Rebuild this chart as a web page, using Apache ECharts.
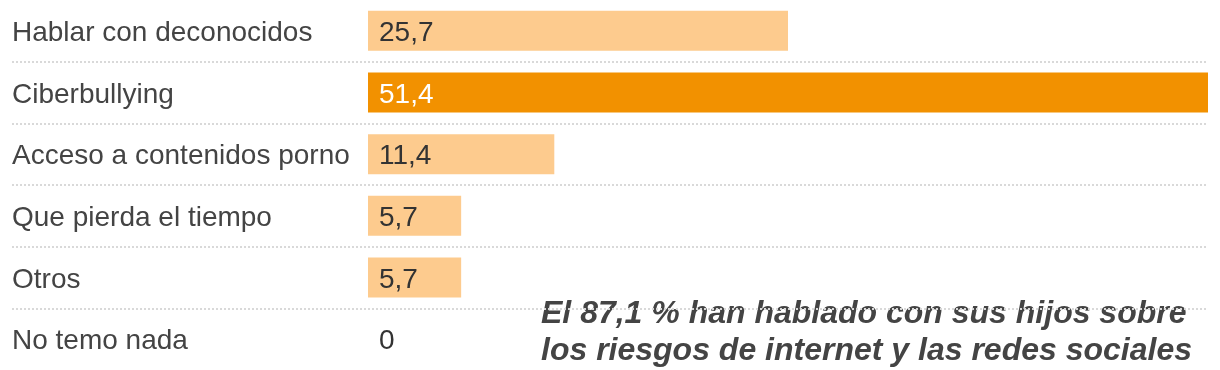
<!DOCTYPE html>
<html><head><meta charset="utf-8">
<script src="https://cdn.jsdelivr.net/npm/echarts@6/dist/echarts.min.js"></script>
<style>html,body{margin:0;padding:0;background:#fff}#c{width:1220px;height:370px}</style>
</head><body><div id="c"></div>
<script>
const categories = ["Hablar con deconocidos","Ciberbullying","Acceso a contenidos porno","Que pierda el tiempo","Otros","No temo nada"];
const values = [25.7, 51.4, 11.4, 5.7, 5.7, 0];
const highlight = [false, true, false, false, false, false];
const note = ["El 87,1 % han hablado con sus hijos sobre", "los riesgos de internet y las redes sociales"];

const maxV = 51.4;
const gridLeft = 12, gridRight = 12, barStart = 368, W = 1220;
// axis min chosen so that value 0 sits at x = barStart (separators span the label column too)
const minV = -(barStart - gridLeft) * maxV / (W - gridRight - barStart);
const sepColors = ['rgba(0,0,0,0)'].concat(Array(categories.length - 1).fill('#d9d9d9'));

const chart = echarts.init(document.getElementById('c'), null, {renderer:'canvas'});
chart.setOption({
  animation:false,
  textStyle:{fontFamily:'Liberation Sans, Arial, sans-serif'},
  grid:{left:gridLeft,right:gridRight,top:-1,height:372,containLabel:false},
  xAxis:{type:'value',min:minV,max:maxV,show:false},
  yAxis:{type:'category',data:categories,inverse:true,
    axisLine:{show:false,onZero:false},axisTick:{show:false},
    axisLabel:{inside:true,margin:0,fontSize:28,color:'#444',align:'left',verticalAlign:'top',lineHeight:5},
    splitLine:{show:true,interval:0,lineStyle:{color:sepColors,width:2,type:[2,2]}}
  },
  series:[{type:'bar',barWidth:40,
    data:values.map((v,i)=>({value:v,itemStyle:{color:highlight[i]?'#F29100':'#FDCB8E'},
      label:{color:highlight[i]?'#fff':'#333'}})),
    label:{show:true,position:'insideLeft',distance:11,fontSize:28,verticalAlign:'top',lineHeight:5,
      formatter:p=>String(p.value).replace('.',',')}
  }],
  graphic:[{type:'text',left:541,top:296,style:{text:note.join('\n'),
    font:'italic bold 32px "Liberation Sans", Arial, sans-serif',fill:'#444',lineHeight:37}}]
});
</script></body></html>
